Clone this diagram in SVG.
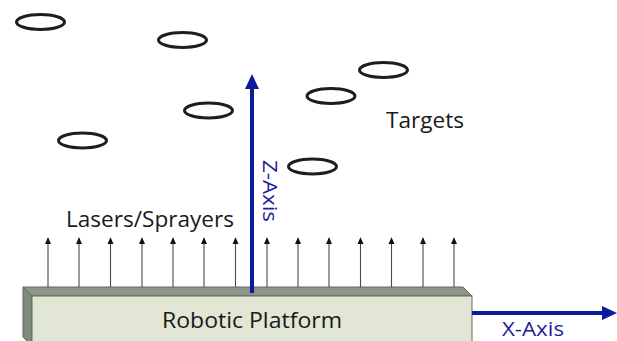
<svg xmlns="http://www.w3.org/2000/svg" width="617" height="341" viewBox="0 0 617 341">
  <defs>
    <style>
      .target { fill: none; stroke: #1e1e1e; stroke-width: 3; }
      .label { font-family: "Open Sans", "Noto Sans", sans-serif; fill: #1a1a1a; }
      .axis-label { font-family: "Open Sans", "Noto Sans", sans-serif; fill: #1c1c9c; }
      .beam { stroke: #4a4a4a; stroke-width: 1.1; marker-end: url(#beamHead); }
      .axis { stroke: #0c1a9c; stroke-width: 4; fill: none; }
    </style>
    <marker id="beamHead" viewBox="0 0 8 8" refX="7" refY="4" markerWidth="7" markerHeight="7" markerUnits="userSpaceOnUse" orient="auto">
      <path d="M0,0.5 L8,4 L0,7.5 Z" fill="#111"/>
    </marker>
  </defs>

  <rect width="617" height="341" fill="#ffffff"/>

  <!-- targets -->
  <g id="targets">
    <ellipse class="target" cx="40.5" cy="22" rx="24" ry="7.5"/>
    <ellipse class="target" cx="182.5" cy="40" rx="24" ry="7.5"/>
    <ellipse class="target" cx="208.5" cy="110.5" rx="24" ry="7.5"/>
    <ellipse class="target" cx="82.5" cy="140.5" rx="24" ry="7.5"/>
    <ellipse class="target" cx="383.5" cy="70" rx="24" ry="7.5"/>
    <ellipse class="target" cx="331" cy="96" rx="24" ry="7.5"/>
    <ellipse class="target" cx="312.5" cy="166.5" rx="24" ry="7.5"/>
  </g>
  <g id="targets-label">
    <text class="label" x="386" y="128" font-size="22" textLength="78" lengthAdjust="spacingAndGlyphs">Targets</text>
  </g>

  <!-- robotic platform block -->
  <g id="platform">
    <polygon points="23,287 463,287 472,296 32,296" fill="#8d9589" stroke="#5e6e5a" stroke-width="1"/>
    <polygon points="23,287 32,296 32,346 23,337" fill="#7f8a7b" stroke="#5e6e5a" stroke-width="1"/>
    <rect x="32" y="296" width="440" height="50" fill="#e1e6d5" stroke="#5e6e5a" stroke-width="1"/>
    <text class="label" x="162" y="328" font-size="22" textLength="180" lengthAdjust="spacingAndGlyphs">Robotic Platform</text>
  </g>

  <!-- lasers / sprayers -->
  <g id="lasers">
    <text class="label" x="66" y="227" font-size="22" textLength="168" lengthAdjust="spacingAndGlyphs">Lasers/Sprayers</text>
  </g>

  <g id="connectors">
    <g id="beams">
      <line class="beam" x1="48" y1="287" x2="48" y2="238"/>
      <line class="beam" x1="79" y1="287" x2="79" y2="238"/>
      <line class="beam" x1="110.5" y1="287" x2="110.5" y2="238"/>
      <line class="beam" x1="142" y1="287" x2="142" y2="238"/>
      <line class="beam" x1="173" y1="287" x2="173" y2="238"/>
      <line class="beam" x1="204" y1="287" x2="204" y2="238"/>
      <line class="beam" x1="235.5" y1="287" x2="235.5" y2="238"/>
      <line class="beam" x1="267" y1="287" x2="267" y2="238"/>
      <line class="beam" x1="298" y1="287" x2="298" y2="238"/>
      <line class="beam" x1="329" y1="287" x2="329" y2="238"/>
      <line class="beam" x1="360.5" y1="287" x2="360.5" y2="238"/>
      <line class="beam" x1="391.5" y1="287" x2="391.5" y2="238"/>
      <line class="beam" x1="423" y1="287" x2="423" y2="238"/>
      <line class="beam" x1="454" y1="287" x2="454" y2="238"/>
    </g>

    <!-- Z axis -->
    <g id="z-axis">
      <line class="axis" x1="252" y1="293" x2="252" y2="86"/>
      <polygon points="252,74 259,89 245,89" fill="#0c1a9c"/>
    </g>

    <!-- X axis -->
    <g id="x-axis">
      <line class="axis" x1="472" y1="313" x2="605" y2="313"/>
      <polygon points="617,313 602,306 602,320" fill="#0c1a9c"/>
    </g>
  </g>

  <text class="axis-label" transform="translate(263,160) rotate(90)" font-size="20" textLength="62" lengthAdjust="spacingAndGlyphs">Z-Axis</text>
  <text class="axis-label" x="502" y="336" font-size="20" textLength="62" lengthAdjust="spacingAndGlyphs">X-Axis</text>
</svg>
